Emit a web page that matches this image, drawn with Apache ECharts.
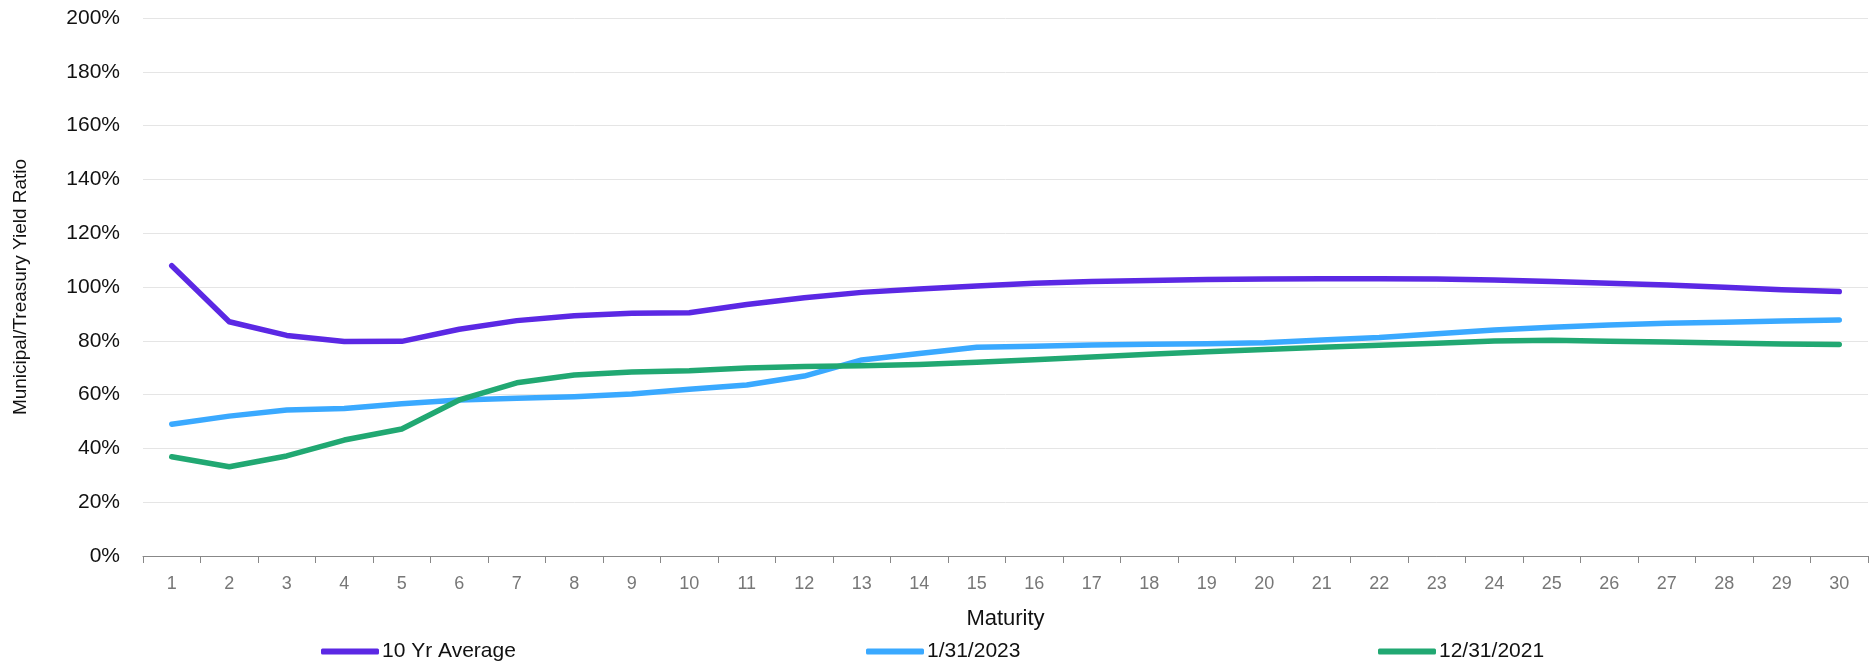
<!DOCTYPE html>
<html>
<head>
<meta charset="utf-8">
<script src="https://cdn.jsdelivr.net/npm/echarts@6/dist/echarts.min.js"></script>
<style>
html,body{margin:0;padding:0;background:#fff;}
#chart{width:1875px;height:662px;}
</style>
</head>
<body>
<div id="chart"></div>
<script>
const maturities = ['1','2','3','4','5','6','7','8','9','10','11','12','13','14','15','16','17','18','19','20','21','22','23','24','25','26','27','28','29','30'];
const tenYrAverage = [107.9, 87.1, 82.0, 79.7, 79.8, 84.3, 87.5, 89.3, 90.2, 90.4, 93.5, 96.0, 98.0, 99.3, 100.4, 101.4, 102.0, 102.4, 102.8, 103.0, 103.1, 103.1, 103.0, 102.6, 102.0, 101.4, 100.7, 99.9, 99.0, 98.3];
const jan2023 = [49.0, 52.0, 54.3, 54.8, 56.6, 58.0, 58.6, 59.2, 60.2, 62.0, 63.6, 66.9, 72.9, 75.3, 77.6, 78.0, 78.4, 78.7, 78.9, 79.3, 80.3, 81.2, 82.6, 84.0, 85.0, 85.9, 86.5, 86.9, 87.4, 87.7];
const dec2021 = [36.9, 33.2, 37.2, 43.1, 47.2, 58.0, 64.4, 67.3, 68.4, 68.9, 69.9, 70.4, 70.7, 71.2, 72.0, 73.0, 74.0, 75.0, 75.9, 76.8, 77.6, 78.3, 79.1, 79.9, 80.2, 79.8, 79.6, 79.2, 78.8, 78.6];
const seriesNames = ['10 Yr Average', '1/31/2023', '12/31/2021'];
const colors = ['#5B28E4', '#3AA9FF', '#21A872'];
const legendLefts = [316, 861, 1373];

const font = 'Liberation Sans, Arial, sans-serif';
const chart = echarts.init(document.getElementById('chart'));
const mk = (name, data, color) => ({
  name, type: 'line', data, symbol: 'none', smooth: false,
  lineStyle: { width: 5.5, color, cap: 'round', join: 'round' },
  itemStyle: { color }
});
chart.setOption({
  animation: false,
  textStyle: { fontFamily: font },
  grid: { left: 143, right: 7, top: 18, bottom: 106 },
  legend: seriesNames.map((n, i) => ({
    top: 636, left: legendLefts[i], itemWidth: 58, itemHeight: 6, itemGap: 0,
    icon: 'roundRect',
    textStyle: { fontSize: 21, color: '#111', fontFamily: font, padding: [0, 0, 0, -2] },
    data: [n]
  })),
  xAxis: {
    type: 'category', data: maturities, boundaryGap: true,
    name: 'Maturity', nameLocation: 'middle', nameGap: 52,
    nameTextStyle: { fontSize: 22, color: '#111', fontFamily: font },
    axisLine: { lineStyle: { color: '#888', width: 1 } },
    axisTick: { show: true, length: 7, lineStyle: { color: '#888' } },
    axisLabel: { fontSize: 18, color: '#777', margin: 19, fontFamily: font }
  },
  yAxis: {
    type: 'value', min: 0, max: 200, interval: 20,
    name: 'Municipal/Treasury Yield Ratio', nameLocation: 'middle', nameGap: 113,
    nameTextStyle: { fontSize: 19, color: '#111', fontFamily: font },
    axisLine: { show: false }, axisTick: { show: false },
    axisLabel: { formatter: '{value}%', fontSize: 21, color: '#111', margin: 23, fontFamily: font },
    splitLine: { lineStyle: { color: '#e5e5e5', width: 1 } }
  },
  series: [
    mk(seriesNames[0], tenYrAverage, colors[0]),
    mk(seriesNames[1], jan2023, colors[1]),
    mk(seriesNames[2], dec2021, colors[2])
  ]
});
</script>
</body>
</html>
